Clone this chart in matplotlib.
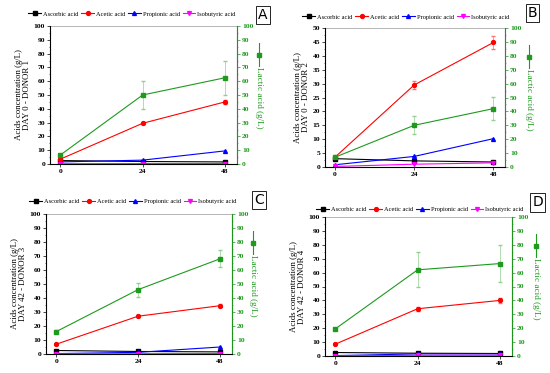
import numpy as np
import matplotlib
matplotlib.use('Agg')
import matplotlib.pyplot as plt
from matplotlib.lines import Line2D
from matplotlib.ticker import AutoMinorLocator

plt.rcParams['font.family'] = ['Liberation Serif', 'DejaVu Serif']

hours = [0, 24, 48]
acid_names = ['Ascorbic acid', 'Acetic acid', 'Propionic acid', 'Isobutyric acid']

# panel A - day 0 donor 1
ascorbic_a = [2.5, 1.8, 1.5]
acetic_a = [3.5, 29.5, 45.0]
acetic_err_a = [0.5, 0.8, 1.5]
propionic_a = [1.5, 2.8, 9.5]
isobutyric_a = [0.2, 0.3, 0.3]
lactic_a = [6.5, 50.0, 62.5]
lactic_err_a = [1.0, 10.0, 12.5]

# panel B - day 0 donor 2
ascorbic_b = [3.0, 2.2, 1.8]
acetic_b = [3.5, 29.5, 44.8]
acetic_err_b = [0.4, 1.3, 2.3]
propionic_b = [0.8, 3.8, 10.2]
isobutyric_b = [0.2, 1.0, 1.5]
lactic_b = [7.0, 30.0, 42.0]
lactic_err_b = [0.8, 6.5, 8.5]

# panel C - day 42 donor 3
ascorbic_c = [2.5, 1.8, 1.5]
acetic_c = [7.0, 27.0, 34.5]
acetic_err_c = [0.5, 0.8, 1.2]
propionic_c = [0.3, 1.2, 5.0]
isobutyric_c = [0.1, 0.2, 0.3]
lactic_c = [16.0, 46.0, 68.0]
lactic_err_c = [1.0, 5.0, 6.0]

# panel D - day 42 donor 4
ascorbic_d = [2.5, 2.0, 1.8]
acetic_d = [8.5, 34.0, 40.0]
acetic_err_d = [0.5, 1.5, 2.0]
propionic_d = [0.3, 1.5, 1.5]
isobutyric_d = [0.1, 0.5, 0.5]
lactic_d = [19.5, 62.0, 66.5]
lactic_err_d = [1.0, 12.5, 13.5]

W, H = 550, 373
fig = plt.figure(figsize=(5.5, 3.73), dpi=100)

green = '#1e9a1e'
fs_tick = 5.4
ms = 2.8


def px_axes(l, r, t, b):
    return fig.add_axes([l / W, 1 - b / H, (r - l) / W, (b - t) / H])


def panel(box, letter, ytop, ystep, ylab, asc, ace, ace_err, pro, iso, lac, lac_err,
          leg_xy, box_xy, lac_x):
    l, r, t, b = box
    ax = px_axes(l, r, t, b)
    ax.plot(hours, asc, '-s', color='black', lw=0.8, ms=ms)
    ax.errorbar(hours, ace, yerr=ace_err, fmt='-o', color='red', lw=0.8, ms=ms,
                elinewidth=0.5, capsize=1.5, ecolor='#ff7070')
    ax.plot(hours, pro, '-^', color='blue', lw=0.8, ms=ms)
    ax.plot(hours, iso, '-v', color='magenta', lw=0.8, ms=ms)
    ax.set_xlim(-3, 51.5)
    ax.set_ylim(0, ytop)
    ax.set_xticks(hours)
    ax.set_yticks(np.arange(0, ytop + 0.1, ystep))
    ax.yaxis.set_minor_locator(AutoMinorLocator(2))
    ax.tick_params(direction='out', labelsize=fs_tick, length=2, width=0.5, pad=1.5)
    ax.tick_params(which='minor', direction='out', length=1, width=0.4)
    for lab in ax.get_xticklabels() + ax.get_yticklabels():
        lab.set_fontweight('bold')
    for s in ['left', 'bottom']:
        ax.spines[s].set_linewidth(0.6)
    ax.spines['top'].set_color('#999999')
    ax.spines['top'].set_linewidth(0.5)
    ax.set_ylabel(ylab, fontsize=6.3, labelpad=2, linespacing=1.0)

    ax2 = ax.twinx()
    ax2.errorbar(hours, lac, yerr=lac_err, fmt='-s', color=green, lw=0.8, ms=ms,
                 elinewidth=0.5, capsize=1.5, ecolor='#8fcf8f')
    ax2.set_ylim(0, 100)
    ax2.set_yticks(np.arange(0, 101, 10))
    ax2.yaxis.set_minor_locator(AutoMinorLocator(2))
    ax2.tick_params(direction='out', labelsize=fs_tick, length=2, width=0.5, pad=1.5,
                    colors=green)
    ax2.tick_params(which='minor', direction='out', length=1, width=0.4, colors=green)
    for lab in ax2.get_yticklabels():
        lab.set_fontweight('bold')
    ax2.spines['right'].set_color(green)
    ax2.spines['right'].set_linewidth(0.7)
    ax2.spines['top'].set_visible(False)

    # right-hand label with its own legend key
    fig.text(lac_x / W, 1 - (t + 72) / H, 'Lactic acid (g/L)', rotation=270,
             color=green, fontsize=6.6, ha='center', va='center')
    fig.add_artist(Line2D([lac_x / W, lac_x / W], [1 - (t + 17) / H, 1 - (t + 40) / H],
                          color=green, lw=0.8))
    fig.add_artist(Line2D([lac_x / W], [1 - (t + 28.5) / H], color=green, marker='s',
                          ms=ms, lw=0))

    handles = [Line2D([], [], color='black', marker='s', ms=ms, lw=0.8),
               Line2D([], [], color='red', marker='o', ms=ms, lw=0.8),
               Line2D([], [], color='blue', marker='^', ms=ms, lw=0.8),
               Line2D([], [], color='magenta', marker='v', ms=ms, lw=0.8)]
    fig.legend(handles, acid_names, loc='center', bbox_to_anchor=(leg_xy[0] / W, 1 - leg_xy[1] / H),
               ncol=4, frameon=False, fontsize=4.6, handlelength=2.0, handletextpad=0.3,
               columnspacing=0.45, borderpad=0, borderaxespad=0)

    bx, by, bw, bh = box_xy
    fig.text((bx + bw / 2) / W, 1 - (by + bh / 2) / H, letter, fontsize=10,
             family='DejaVu Sans', ha='center', va='center',
             bbox=dict(boxstyle='square,pad=0.15', fc='white', ec='black', lw=0.6))


panel((50, 237, 26, 164), 'A', 100, 10, 'Acids concentration (g/L)\nDAY 0 - DONOR 1',
      ascorbic_a, acetic_a, acetic_err_a, propionic_a, isobutyric_a, lactic_a, lactic_err_a,
      (132, 14), (255, 7, 16, 16), 259)
panel((325, 505, 28, 167), 'B', 50, 5, 'Acids concentration (g/L)\nDAY 0 - DONOR 2',
      ascorbic_b, acetic_b, acetic_err_b, propionic_b, isobutyric_b, lactic_b, lactic_err_b,
      (406, 17), (525, 5, 15, 16), 529)
panel((46, 232, 214, 354), 'C', 100, 10, 'Acids concentration (g/L)\nDAY 42 - DONOR 3',
      ascorbic_c, acetic_c, acetic_err_c, propionic_c, isobutyric_c, lactic_c, lactic_err_c,
      (133, 201), (252, 192, 14, 16), 253)
panel((325, 512, 217, 356), 'D', 100, 10, 'Acids concentration (g/L)\nDAY 42 - DONOR 4',
      ascorbic_d, acetic_d, acetic_err_d, propionic_d, isobutyric_d, lactic_d, lactic_err_d,
      (420, 209), (530, 195, 15, 15), 536)

fig.savefig('out.png', dpi=100)
